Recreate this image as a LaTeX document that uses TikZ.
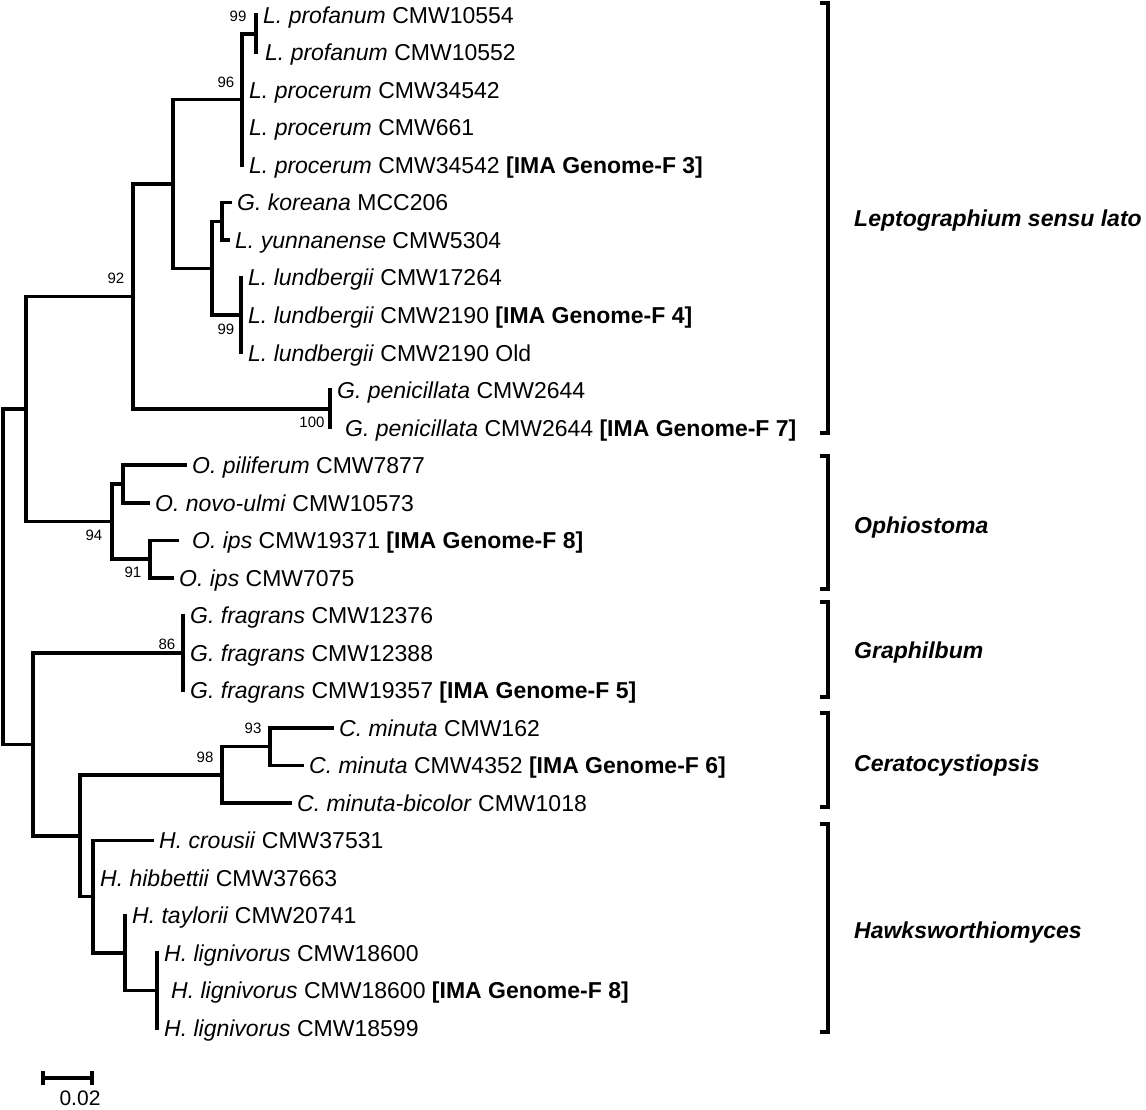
\documentclass[tikz,border=0pt]{standalone}
\usepackage{fontspec}
\setmainfont{Liberation Sans}
\begin{document}
\begin{tikzpicture}[x=1pt,y=-1pt,
  branch/.style={line width=3.5pt, line cap=rect, line join=miter},
  brk/.style={line width=3.5pt, line join=miter},
  leaf/.style={anchor=base west, inner sep=0pt, font=\fontsize{23}{23}\selectfont, xshift=7pt, yshift=-8.3pt},
  boot/.style={inner sep=0pt, font=\fontsize{15}{15}\selectfont},
  clade/.style={anchor=base west, inner sep=0pt, font=\fontsize{23}{23}\selectfont\bfseries\itshape, yshift=-8.3pt},
  ima/.style={}]
\useasboundingbox (0,0) rectangle (1146,1109);
% internal nodes
\coordinate (root) at (3,576.7);
\coordinate (n26) at (26,409);
\coordinate (n92) at (133,296.4);
\coordinate (nA) at (173,183.9);
\coordinate (n96) at (242,99.4);
\coordinate (n99a) at (256,33.8);
\coordinate (nKL) at (212,268.3);
\coordinate (nKY) at (222,221.4);
\coordinate (nLund) at (241,315.2);
\coordinate (nPen) at (330,409);
\coordinate (n94) at (112,521.5);
\coordinate (nPil) at (123,484);
\coordinate (nIps) at (150,559);
\coordinate (nGH) at (33,744.3);
\coordinate (nFrag) at (183,652.8);
\coordinate (nHC) at (80,835.8);
\coordinate (nC98) at (222,774.8);
\coordinate (nC93) at (270,746.6);
\coordinate (nH) at (93,896.7);
\coordinate (nTay) at (125,953);
\coordinate (nLig) at (157,990.5);
% leaf tips
\coordinate (l1) at (256,15);
\coordinate (l2) at (256,52.5);
\coordinate (l3) at (242,90);
\coordinate (l4) at (242,127.6);
\coordinate (l5) at (242,165.1);
\coordinate (l6) at (230,202.6);
\coordinate (l7) at (228,240.1);
\coordinate (l8) at (241,277.6);
\coordinate (l9) at (241,315.2);
\coordinate (l10) at (241,352.7);
\coordinate (l11) at (330,390.2);
\coordinate (l12) at (330,427.7);
\coordinate (l13) at (185,465.2);
\coordinate (l14) at (148,502.8);
\coordinate (l15) at (177,540.3);
\coordinate (l16) at (172,577.8);
\coordinate (l17) at (183,615.3);
\coordinate (l18) at (183,652.8);
\coordinate (l19) at (183,690.4);
\coordinate (l20) at (332,727.9);
\coordinate (l21) at (302,765.4);
\coordinate (l22) at (290,802.9);
\coordinate (l23) at (152,840.4);
\coordinate (l24) at (93,878);
\coordinate (l25) at (125,915.5);
\coordinate (l26) at (157,953);
\coordinate (l27) at (157,990.5);
\coordinate (l28) at (157,1028);
% branches
\draw[branch] (root) |- (n26);
\draw[branch] (root) |- (nGH);
\draw[branch] (n26) |- (n92);
\draw[branch] (n26) |- (n94);
\draw[branch] (n92) |- (nA);
\draw[branch] (n92) |- (nPen);
\draw[branch] (nA) |- (n96);
\draw[branch] (nA) |- (nKL);
\draw[branch] (n96) |- (n99a);
\draw[branch] (n96) |- (l3);
\draw[branch] (n96) |- (l4);
\draw[branch] (n96) |- (l5);
\draw[branch] (n99a) |- (l1);
\draw[branch] (n99a) |- (l2);
\draw[branch] (nKL) |- (nKY);
\draw[branch] (nKL) |- (nLund);
\draw[branch] (nKY) |- (l6);
\draw[branch] (nKY) |- (l7);
\draw[branch] (nLund) |- (l8);
\draw[branch] (nLund) |- (l9);
\draw[branch] (nLund) |- (l10);
\draw[branch] (nPen) |- (l11);
\draw[branch] (nPen) |- (l12);
\draw[branch] (n94) |- (nPil);
\draw[branch] (n94) |- (nIps);
\draw[branch] (nPil) |- (l13);
\draw[branch] (nPil) |- (l14);
\draw[branch] (nIps) |- (l15);
\draw[branch] (nIps) |- (l16);
\draw[branch] (nGH) |- (nFrag);
\draw[branch] (nGH) |- (nHC);
\draw[branch] (nFrag) |- (l17);
\draw[branch] (nFrag) |- (l18);
\draw[branch] (nFrag) |- (l19);
\draw[branch] (nHC) |- (nC98);
\draw[branch] (nHC) |- (nH);
\draw[branch] (nC98) |- (nC93);
\draw[branch] (nC98) |- (l22);
\draw[branch] (nC93) |- (l20);
\draw[branch] (nC93) |- (l21);
\draw[branch] (nH) |- (l23);
\draw[branch] (nH) |- (l24);
\draw[branch] (nH) |- (nTay);
\draw[branch] (nTay) |- (l25);
\draw[branch] (nTay) |- (nLig);
\draw[branch] (nLig) |- (l26);
\draw[branch] (nLig) |- (l27);
\draw[branch] (nLig) |- (l28);
% leaf labels
\node[leaf] (t1) at (l1) {\textit{L. profanum} CMW10554};
\node[leaf, xshift=2pt] (t2) at (l2) {\textit{L. profanum} CMW10552};
\node[leaf] (t3) at (l3) {\textit{L. procerum} CMW34542};
\node[leaf] (t4) at (l4) {\textit{L. procerum} CMW661};
\node[leaf] (t5) at (l5) {\textit{L. procerum} CMW34542 \textbf{[IMA Genome-F 3]}};
\node[leaf] (t6) at (l6) {\textit{G. koreana} MCC206};
\node[leaf] (t7) at (l7) {\textit{L. yunnanense} CMW5304};
\node[leaf] (t8) at (l8) {\textit{L. lundbergii} CMW17264};
\node[leaf] (t9) at (l9) {\textit{L. lundbergii} CMW2190 \textbf{[IMA Genome-F 4]}};
\node[leaf] (t10) at (l10) {\textit{L. lundbergii} CMW2190 Old};
\node[leaf] (t11) at (l11) {\textit{G. penicillata} CMW2644};
\node[leaf, xshift=8pt] (t12) at (l12) {\textit{G. penicillata} CMW2644 \textbf{[IMA Genome-F 7]}};
\node[leaf] (t13) at (l13) {\textit{O. piliferum} CMW7877};
\node[leaf] (t14) at (l14) {\textit{O. novo-ulmi} CMW10573};
\node[leaf, xshift=8pt] (t15) at (l15) {\textit{O. ips} CMW19371 \textbf{[IMA Genome-F 8]}};
\node[leaf] (t16) at (l16) {\textit{O. ips} CMW7075};
\node[leaf] (t17) at (l17) {\textit{G. fragrans} CMW12376};
\node[leaf] (t18) at (l18) {\textit{G. fragrans} CMW12388};
\node[leaf] (t19) at (l19) {\textit{G. fragrans} CMW19357 \textbf{[IMA Genome-F 5]}};
\node[leaf] (t20) at (l20) {\textit{C. minuta} CMW162};
\node[leaf] (t21) at (l21) {\textit{C. minuta} CMW4352 \textbf{[IMA Genome-F 6]}};
\node[leaf] (t22) at (l22) {\textit{C. minuta-bicolor} CMW1018};
\node[leaf] (t23) at (l23) {\textit{H. crousii} CMW37531};
\node[leaf] (t24) at (l24) {\textit{H. hibbettii} CMW37663};
\node[leaf] (t25) at (l25) {\textit{H. taylorii} CMW20741};
\node[leaf] (t26) at (l26) {\textit{H. lignivorus} CMW18600};
\node[leaf, xshift=7pt] (t27) at (l27) {\textit{H. lignivorus} CMW18600 \textbf{[IMA Genome-F 8]}};
\node[leaf] (t28) at (l28) {\textit{H. lignivorus} CMW18599};
% bootstrap values
\node[boot] (b99a) at (238,16) {99};
\node[boot] (b96) at (226,82) {96};
\node[boot] (b99b) at (226,329) {99};
\node[boot] (b92) at (116,278) {92};
\node[boot] (b100) at (312,422) {100};
\node[boot] (b94) at (94,535) {94};
\node[boot] (b91) at (133,572) {91};
\node[boot] (b86) at (167,644) {86};
\node[boot] (b93) at (253,728) {93};
\node[boot] (b98) at (205,757) {98};
% clade brackets
\coordinate (kLt) at (828,3);   \coordinate (kLb) at (828,433);
\coordinate (kOt) at (828,456); \coordinate (kOb) at (828,589);
\coordinate (kGt) at (828,602); \coordinate (kGb) at (828,697);
\coordinate (kCt) at (828,713); \coordinate (kCb) at (828,807);
\coordinate (kHt) at (828,824); \coordinate (kHb) at (828,1032);
\foreach \k in {L,O,G,C,H}{
  \draw[brk] ([xshift=-8pt]k\k t) -- (k\k t) -- (k\k b) -- ([xshift=-8pt]k\k b);
}
\node[clade] (cL) at (854,218) {Leptographium sensu lato};
\node[clade] (cO) at (854,525) {Ophiostoma};
\node[clade] (cG) at (854,650) {Graphilbum};
\node[clade] (cC) at (854,763) {Ceratocystiopsis};
\node[clade] (cH) at (854,930) {Hawksworthiomyces};
% scale bar
\coordinate (s1) at (43,1078);
\coordinate (s2) at (92,1078);
\draw[line width=3.5pt] (s1) -- (s2);
\draw[line width=3.5pt] ([yshift=7pt]s1) -- ([yshift=-7pt]s1);
\draw[line width=3.5pt] ([yshift=7pt]s2) -- ([yshift=-7pt]s2);
\node[inner sep=0pt, font=\fontsize{21}{21}\selectfont] (sl) at (80,1098) {0.02};
\end{tikzpicture}
\end{document}
